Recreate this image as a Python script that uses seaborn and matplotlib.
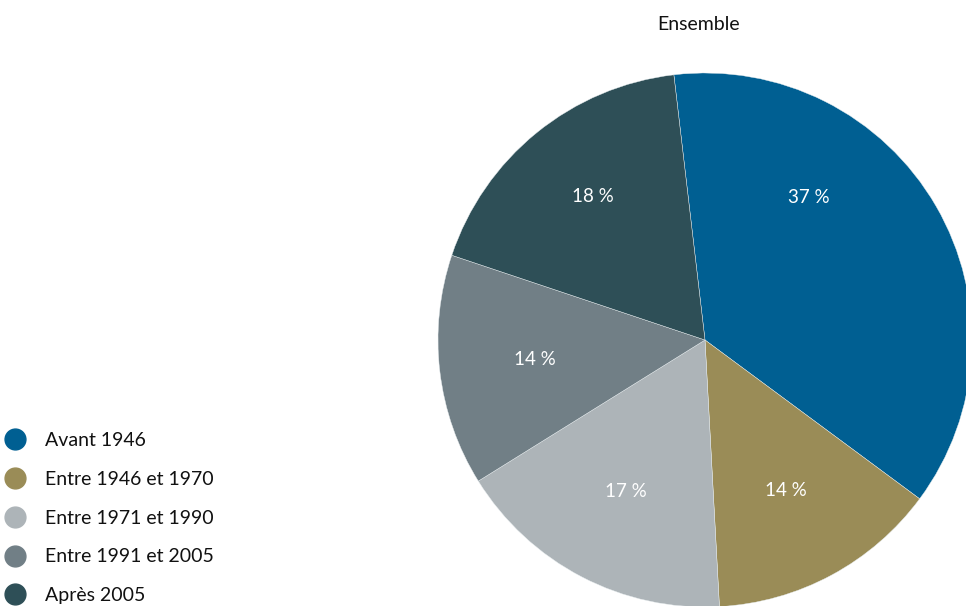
import matplotlib
matplotlib.use("Agg")
import matplotlib.pyplot as plt
from matplotlib.lines import Line2D
import numpy as np
import seaborn as sns

# data
categories = ["Avant 1946", "Entre 1946 et 1970", "Entre 1971 et 1990",
              "Entre 1991 et 2005", "Après 2005"]
shares = [37, 14, 17, 14, 18]
colors = ["#005F92", "#9A8C57", "#ADB4B8", "#717F86", "#2E4F57"]
title = "Ensemble"

sns.set_theme(style="white")
plt.rcParams['font.family'] = ['Lato', 'DejaVu Sans']

fig = plt.figure(figsize=(9.66, 6.06), dpi=100)
W, H = 966, 606
cx, cy, r = 705, 340, 267
ax = fig.add_axes([(cx - r) / W, (H - cy - r) / H, 2 * r / W, 2 * r / H])

wedges, texts, autotexts = ax.pie(
    shares, colors=colors, startangle=96.7, counterclock=False,
    autopct=lambda p: f"{p:.0f} %", pctdistance=0.64,
    wedgeprops=dict(linewidth=0.3, edgecolor="#e8eef0"),
    textprops=dict(color="white", fontsize=13.5))
ax.set_xlim(-1, 1)
ax.set_ylim(-1, 1)
ax.set_aspect("equal")
ax.axis("off")

# the first label sits higher up in its slice in the original
ang = np.deg2rad(54)
autotexts[0].set_position((0.66 * np.cos(ang), 0.66 * np.sin(ang)))
ang = np.deg2rad(128)
autotexts[4].set_position((0.68 * np.cos(ang), 0.68 * np.sin(ang)))

fig.text(699 / W, 1 - 24 / H, title, ha="center", va="center", fontsize=14,
         color="#111111")

handles = [Line2D([], [], marker="o", linestyle="", markersize=15,
                  markerfacecolor=c, markeredgecolor=c) for c in colors]
fig.legend(handles, categories, loc="upper left",
           bbox_to_anchor=(0.0, 1 - 432 / H), frameon=False, fontsize=14,
           borderpad=0, borderaxespad=0, handletextpad=0.75,
           labelspacing=1.12, handlelength=1.55, labelcolor="#111111")

fig.savefig("out.png", dpi=100)
